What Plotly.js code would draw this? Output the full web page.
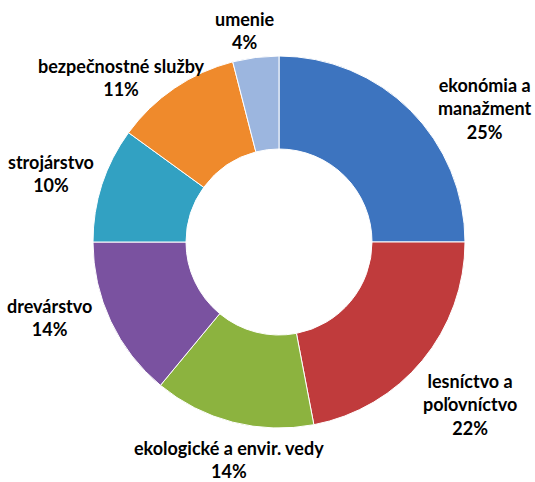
<!DOCTYPE html>
<html><head><meta charset="utf-8">
<script src="https://cdn.plot.ly/plotly-3.0.1.min.js"></script>
<style>html,body{margin:0;padding:0;background:#fff;}#chart{width:535px;height:482px;}</style>
</head><body><div id="chart"></div>
<script>
const categories = ["ekonómia a manažment", "lesníctvo a poľovníctvo", "ekologické a envir. vedy", "drevárstvo", "strojárstvo", "bezpečnostné služby", "umenie"];
const labelLines = ["ekonómia a<br>manažment", "lesníctvo a<br>poľovníctvo", "ekologické a envir. vedy", "drevárstvo", "strojárstvo", "bezpečnostné služby", "umenie"];
const values = [25, 22, 14, 14, 10, 11, 4];
const colors = ["#3d74bf", "#c03b3c", "#8cb33f", "#7a52a0", "#32a1c2", "#ef8a2c", "#9cb6df"];

const total = values.reduce((a, b) => a + b, 0);
// label anchor positions (layout, in pixels of the 535x482 page)
const labelPos = [[484, 109], [470, 404], [229, 459], [49, 317], [51, 173], [122, 78], [245, 31]];

const annotations = categories.map((c, i) => ({
  xref: 'paper', yref: 'paper',
  x: labelPos[i][0] / 535, y: 1 - labelPos[i][1] / 482,
  xanchor: 'center', yanchor: 'middle',
  text: labelLines[i] + '<br>' + Math.round(values[i] / total * 100) + '%',
  showarrow: false,
  font: {family: 'Lato, "Open Sans", sans-serif', size: 18, color: '#000', weight: 'bold'}
}));

const trace = {
  type: 'pie',
  labels: categories,
  values: values,
  hole: 0.5,
  sort: false,
  direction: 'clockwise',
  rotation: 0,
  textinfo: 'none',
  marker: {colors: colors, line: {color: '#ffffff', width: 1}},
  domain: {x: [93 / 535, 465 / 535], y: [1 - 428 / 482, 1 - 56 / 482]},
  showlegend: false
};

Plotly.newPlot('chart', [trace], {
  width: 535, height: 482,
  margin: {l: 0, r: 0, t: 0, b: 0},
  paper_bgcolor: '#fff',
  annotations: annotations,
  showlegend: false
}, {displayModeBar: false, staticPlot: true});
</script></body></html>
